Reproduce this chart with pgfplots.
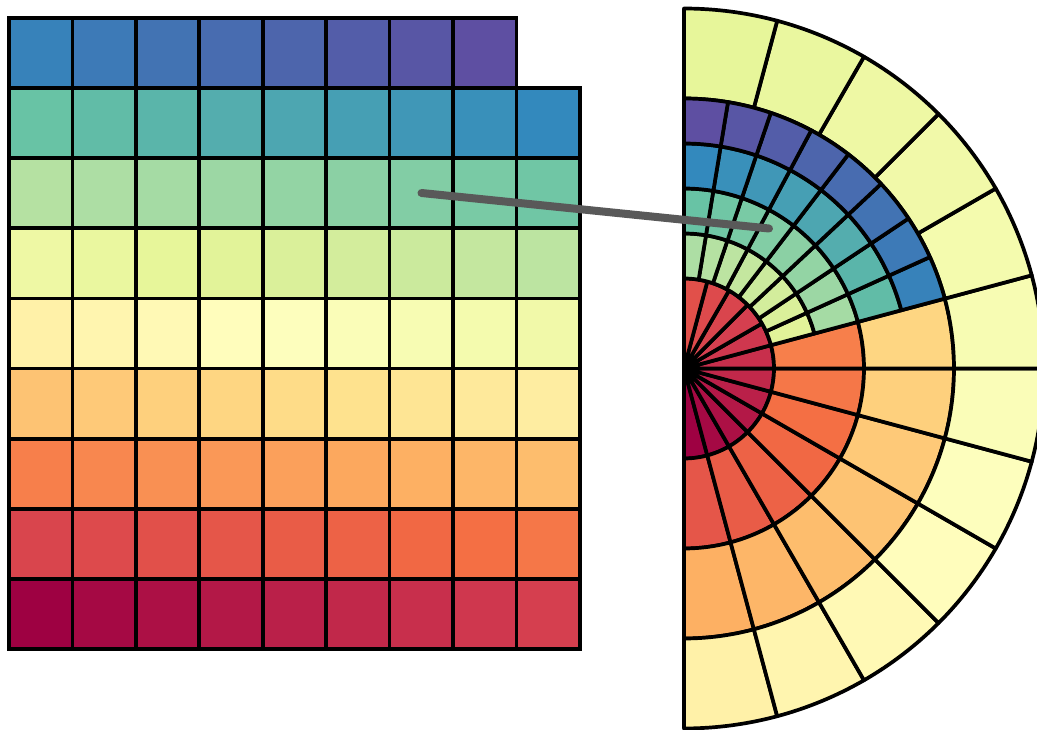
\documentclass[border=0pt]{standalone}
\usepackage{pgfplots}
\usepackage{pgfplotstable}
\pgfplotsset{compat=1.18}

% Spectral (ColorBrewer, 11 stops)
\definecolor{s0}{HTML}{9E0142}
\definecolor{s1}{HTML}{D53E4F}
\definecolor{s2}{HTML}{F46D43}
\definecolor{s3}{HTML}{FDAE61}
\definecolor{s4}{HTML}{FEE08B}
\definecolor{s5}{HTML}{FFFFBF}
\definecolor{s6}{HTML}{E6F598}
\definecolor{s7}{HTML}{ABDDA4}
\definecolor{s8}{HTML}{66C2A5}
\definecolor{s9}{HTML}{3288BD}
\definecolor{s10}{HTML}{5E4FA2}
\definecolor{linkgray}{HTML}{595959}

% rings of the polar part: first angle, angular step, count, inner r, outer r, first colour index
\pgfplotstableread{
th0 dth n r1 r2 idx0
-90 15 12 0 90 0
-90 15 7 90 180 12
-90 15 7 180 270 24
-90 15 12 270 360 36
15 9.375 8 90 135 48
15 9.375 8 135 180 56
15 9.375 8 180 225 64
15 9.375 8 225 270 72
}\rings

% colour index (0..79) -> \cmix, linear in the 11 stops
\newcommand\spectral[1]{%
  \pgfmathsetmacro\tpos{#1*10/79}%
  \pgfmathtruncatemacro\kk{min(floor(\tpos),9)}%
  \pgfmathtruncatemacro\kp{\kk+1}%
  \pgfmathsetmacro\pct{(\tpos-\kk)*100}%
  \xdef\cmix{s\kp!\pct!s\kk}%
}

\def\lw{3.7pt}

% annular sector: angle from, angle to, inner r, outer r, colour index
\newcommand\sector[5]{%
  \gdef\pts{}%
  \pgfmathsetmacro\dstep{(#2-#1)/16}%
  \foreach \i in {0,...,16}{\pgfmathsetmacro\tq{#1+\i*\dstep}\xdef\pts{\pts(\tq,#4)}}%
  \foreach \i in {16,...,0}{\pgfmathsetmacro\tq{#1+\i*\dstep}\xdef\pts{\pts(\tq,#3)}}%
  \spectral{#5}%
  \edef\temp{\noexpand\addplot[data cs=polar, fill=\cmix, draw=black,
    line width=\lw, line join=round] coordinates {\pts} -- cycle;}%
  \temp
}

\pgfplotstablegetrowsof{\rings}
\pgfmathtruncatemacro\nrings{\pgfplotsretval-1}

\begin{document}
\begin{tikzpicture}
\begin{axis}[
  at={(0,0)}, anchor=south west,
  x=1pt, y=1pt,
  xmin=-684, xmax=353, ymin=-360.5, ymax=368.5,
  enlargelimits=false,
  hide axis,
  clip=true,
]
% polar part
\foreach \j in {0,...,\nrings}{%
  \pgfplotstablegetelem{\j}{th0}\of\rings \let\tho\pgfplotsretval
  \pgfplotstablegetelem{\j}{dth}\of\rings \let\dth\pgfplotsretval
  \pgfplotstablegetelem{\j}{n}\of\rings \let\nn\pgfplotsretval
  \pgfplotstablegetelem{\j}{r1}\of\rings \let\ra\pgfplotsretval
  \pgfplotstablegetelem{\j}{r2}\of\rings \let\rb\pgfplotsretval
  \pgfplotstablegetelem{\j}{idx0}\of\rings \let\iz\pgfplotsretval
  \pgfmathtruncatemacro\nm{\nn-1}%
  \foreach \s in {0,...,\nm}{%
    \pgfmathsetmacro\ta{\tho+\s*\dth}%
    \pgfmathsetmacro\tb{\tho+(\s+1)*\dth}%
    \pgfmathtruncatemacro\id{\iz+\s}%
    \sector{\ta}{\tb}{\ra}{\rb}{\id}%
  }%
}
% colormap grid, 9 per row, index 0 bottom left
\foreach \r in {0,...,8}{%
  \foreach \c in {0,...,8}{%
    \pgfmathtruncatemacro\id{9*\r+\c}%
    \ifnum\id<80
      \pgfmathsetmacro\xa{-675+\c*63.44}%
      \pgfmathsetmacro\xb{\xa+63.44}%
      \pgfmathsetmacro\ya{-280.5+\r*70.11}%
      \pgfmathsetmacro\yb{\ya+70.11}%
      \spectral{\id}%
      \edef\temp{\noexpand\addplot[fill=\cmix, draw=black, line width=\lw,
        line join=miter] coordinates {(\xa,\ya) (\xb,\ya) (\xb,\yb) (\xa,\yb)} -- cycle;}%
      \temp
    \fi
  }%
}
% link from cell 60 to its sector
\addplot[linkgray, line width=8pt, line cap=round] coordinates {(-262.5,175.5) (85,140)};
\end{axis}
\pgfresetboundingbox
\useasboundingbox (0,0) rectangle (1037pt,729pt);
\end{tikzpicture}
\end{document}
